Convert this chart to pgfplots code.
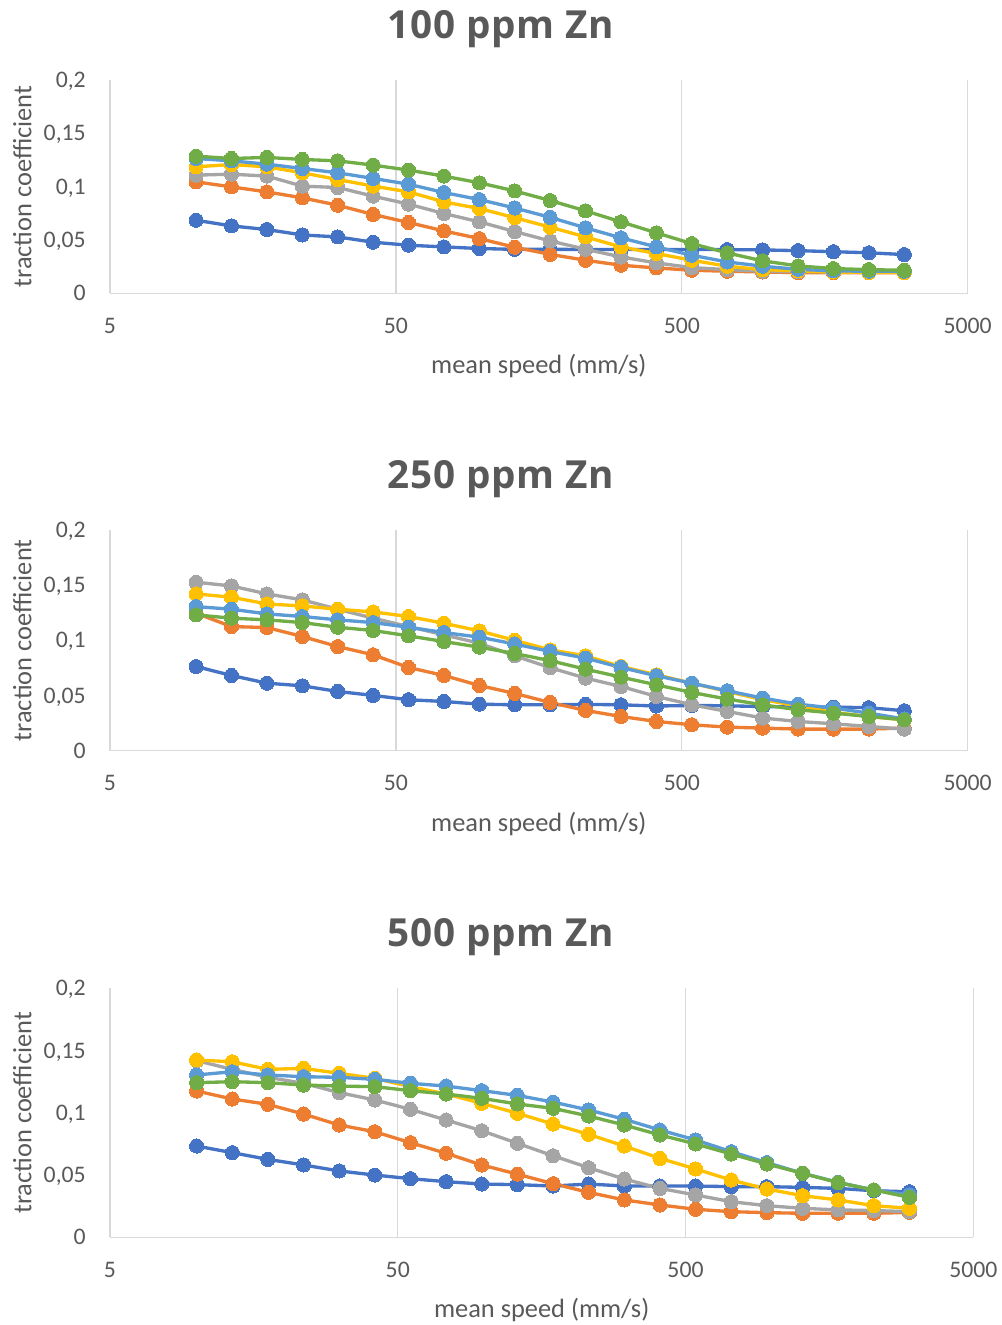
\documentclass[border=0pt]{standalone}
\usepackage{fontspec}
\setmainfont{Carlito}
\newfontfamily\titlefont[LetterSpace=2]{Open Sans}
\usepackage{pgfplots}
\usepackage{pgfplotstable}
\pgfplotsset{compat=1.18}

\definecolor{cA}{HTML}{4472C4}
\definecolor{cB}{HTML}{ED7D31}
\definecolor{cC}{HTML}{A5A5A5}
\definecolor{cD}{HTML}{FFC000}
\definecolor{cE}{HTML}{5B9BD5}
\definecolor{cF}{HTML}{70AD47}
\definecolor{txt}{HTML}{595959}
\definecolor{gridc}{HTML}{D9D9D9}

% traction coefficient vs. mean speed, 100 ppm Zn
\pgfplotstableread{
speed a b c d e f
10     0.0685 0.1045 0.1108 0.1186 0.1264 0.1286
13.30  0.0632 0.0998 0.1117 0.1208 0.1242 0.1264
17.69  0.0598 0.0951 0.1099 0.1186 0.1211 0.1274
23.53  0.0547 0.0895 0.1005 0.1130 0.1170 0.1255
31.29  0.0529 0.0826 0.0992 0.1067 0.1130 0.1242
41.62  0.0479 0.0739 0.0911 0.1005 0.1077 0.1202
55.35  0.0451 0.0664 0.0836 0.0951 0.1023 0.1155
73.62  0.0435 0.0585 0.0748 0.0857 0.0945 0.1099
97.92  0.0420 0.0513 0.0670 0.0795 0.0879 0.1036
130.2  0.0412 0.0432 0.0579 0.0709 0.0800 0.0960
173.2  0.0413 0.0365 0.0491 0.0620 0.0712 0.0870
230.3  0.0410 0.0310 0.0413 0.0529 0.0614 0.0773
306.4  0.0410 0.0263 0.0341 0.0435 0.0520 0.0670
407.4  0.0410 0.0238 0.0285 0.0373 0.0435 0.0567
541.9  0.0410 0.0216 0.0241 0.0310 0.0357 0.0466
720.8  0.0410 0.0207 0.0222 0.0254 0.0294 0.0379
958.7  0.0407 0.0200 0.0207 0.0222 0.0254 0.0304
1275.3 0.0400 0.0194 0.0204 0.0210 0.0225 0.0257
1696.0 0.0390 0.0194 0.0200 0.0200 0.0210 0.0232
2255.7 0.0380 0.0194 0.0200 0.0195 0.0207 0.0222
3000   0.0363 0.0194 0.0200 0.0195 0.0207 0.0216
}\tabA

% 250 ppm Zn
\pgfplotstableread{
speed a b c d e f
10     0.0763 0.1246 0.1527 0.1421 0.1306 0.1231
13.30  0.0682 0.1125 0.1493 0.1391 0.1282 0.1201
17.69  0.0612 0.1116 0.1421 0.1330 0.1240 0.1186
23.53  0.0588 0.1035 0.1367 0.1312 0.1216 0.1161
31.29  0.0537 0.0944 0.1282 0.1282 0.1186 0.1119
41.62  0.0501 0.0869 0.1201 0.1258 0.1161 0.1089
55.35  0.0462 0.0754 0.1125 0.1216 0.1119 0.1041
73.62  0.0446 0.0682 0.1050 0.1155 0.1071 0.0989
97.92  0.0422 0.0591 0.0974 0.1086 0.1029 0.0938
130.2  0.0416 0.0519 0.0860 0.1000 0.0967 0.0881
173.2  0.0416 0.0437 0.0752 0.0914 0.0899 0.0816
230.3  0.0420 0.0365 0.0658 0.0860 0.0839 0.0739
306.4  0.0416 0.0310 0.0582 0.0763 0.0754 0.0667
407.4  0.0405 0.0265 0.0492 0.0688 0.0679 0.0597
541.9  0.0410 0.0235 0.0416 0.0612 0.0612 0.0528
720.8  0.0407 0.0214 0.0356 0.0537 0.0543 0.0468
958.7  0.0400 0.0205 0.0296 0.0462 0.0477 0.0416
1275.3 0.0395 0.0196 0.0265 0.0407 0.0422 0.0371
1696.0 0.0395 0.0196 0.0244 0.0347 0.0386 0.0341
2255.7 0.0390 0.0196 0.0220 0.0310 0.0341 0.0310
3000   0.0362 0.0205 0.0196 0.0280 0.0287 0.0280
}\tabB

% 500 ppm Zn
\pgfplotstableread{
speed a b c d e f
10     0.0733 0.1175 0.1419 0.1424 0.1304 0.1242
13.30  0.0680 0.1111 0.1349 0.1410 0.1330 0.1250
17.69  0.0626 0.1068 0.1285 0.1349 0.1304 0.1242
23.53  0.0581 0.0990 0.1237 0.1357 0.1290 0.1223
31.29  0.0533 0.0902 0.1162 0.1317 0.1285 0.1215
41.62  0.0500 0.0848 0.1103 0.1277 0.1269 0.1210
55.35  0.0471 0.0760 0.1028 0.1210 0.1237 0.1178
73.62  0.0447 0.0675 0.0942 0.1151 0.1215 0.1151
97.92  0.0428 0.0581 0.0856 0.1076 0.1178 0.1116
130.2  0.0423 0.0507 0.0755 0.0996 0.1140 0.1071
173.2  0.0412 0.0431 0.0655 0.0910 0.1086 0.1036
230.3  0.0428 0.0361 0.0559 0.0827 0.1023 0.0974
306.4  0.0412 0.0300 0.0468 0.0733 0.0948 0.0902
407.4  0.0412 0.0260 0.0393 0.0634 0.0862 0.0822
541.9  0.0412 0.0225 0.0340 0.0549 0.0782 0.0750
720.8  0.0407 0.0206 0.0286 0.0460 0.0688 0.0669
958.7  0.0407 0.0198 0.0254 0.0388 0.0600 0.0589
1275.3 0.0401 0.0193 0.0233 0.0334 0.0514 0.0514
1696.0 0.0393 0.0193 0.0220 0.0300 0.0442 0.0439
2255.7 0.0374 0.0193 0.0215 0.0254 0.0380 0.0380
3000   0.0366 0.0200 0.0206 0.0233 0.0340 0.0321
}\tabC

\pgfplotsset{
  tcseries/.style={color=#1, line width=2.5pt, mark=*, mark size=5.3pt,
    mark options={solid, fill=#1, draw=#1, line width=0pt}},
  every axis/.append style={
    scale only axis,
    xmin=5, xmax=5000,
    ymin=0, ymax=0.2,
    axis x line*=bottom,
    axis y line*=left,
    x axis line style={-, draw=gridc, line width=0.9pt},
    y axis line style={draw=none},
    major tick length=0pt,
    minor tick length=0pt,
    xtick={5,50,500,5000},
    xticklabels={5,50,500,5000},
    ytick={0,0.05,0.1,0.15,0.2},
    yticklabels={0,{0,05},{0,1},{0,15},{0,2}},
    xmajorgrids,
    major grid style={draw=gridc, line width=0.9pt},
    xticklabel style={font=\fontsize{17.8pt}{18pt}\selectfont, text=txt,
      anchor=base, inner sep=0pt, yshift=-29.8pt},
    yticklabel style={font=\fontsize{17.8pt}{18pt}\selectfont, text=txt,
      anchor=base east, inner sep=0pt, xshift=-18pt, yshift=-5.6pt},
    xlabel={mean speed (mm/s)},
    ylabel={traction coefficient},
    xlabel style={font=\fontsize{19.8pt}{20pt}\selectfont, text=txt,
      at={(axis description cs:0.5,0)}, anchor=base, inner sep=0pt, yshift=-60.5pt},
    ylabel style={font=\fontsize{19.8pt}{20pt}\selectfont, text=txt,
      at={(axis description cs:0,0.5)}, anchor=base, inner sep=0pt, yshift=59pt},
    title style={font=\titlefont\bfseries\fontsize{29pt}{30pt}\selectfont, text=txt,
      anchor=base, inner sep=0pt, yshift=25.5pt},
    clip=false,
  },
}

\begin{document}
\begin{tikzpicture}
\useasboundingbox (0pt,0pt) rectangle (751.5pt,-993.75pt);

\begin{semilogxaxis}[at={(82.5pt,-219.975pt)}, anchor=south west,
  width=643.275pt, height=159.975pt,
  title={100 ppm Zn}, title style={at={(axis description cs:0.4559,1)}}]
\addplot[tcseries=cA] table[x=speed, y=a] {\tabA};
\addplot[tcseries=cB] table[x=speed, y=b] {\tabA};
\addplot[tcseries=cC] table[x=speed, y=c] {\tabA};
\addplot[tcseries=cD] table[x=speed, y=d] {\tabA};
\addplot[tcseries=cE] table[x=speed, y=e] {\tabA};
\addplot[tcseries=cF] table[x=speed, y=f] {\tabA};
\end{semilogxaxis}

\begin{semilogxaxis}[at={(82.5pt,-563.025pt)}, anchor=south west,
  width=643.275pt, height=165.525pt,
  title={250 ppm Zn}, title style={at={(axis description cs:0.4559,1)}}]
\addplot[tcseries=cA] table[x=speed, y=a] {\tabB};
\addplot[tcseries=cB] table[x=speed, y=b] {\tabB};
\addplot[tcseries=cC] table[x=speed, y=c] {\tabB};
\addplot[tcseries=cD] table[x=speed, y=d] {\tabB};
\addplot[tcseries=cE] table[x=speed, y=e] {\tabB};
\addplot[tcseries=cF] table[x=speed, y=f] {\tabB};
\end{semilogxaxis}

\begin{semilogxaxis}[at={(82.5pt,-927.975pt)}, anchor=south west,
  width=647.475pt, height=186.75pt,
  title={500 ppm Zn}, title style={at={(axis description cs:0.4529,1)}}]
\addplot[tcseries=cA] table[x=speed, y=a] {\tabC};
\addplot[tcseries=cB] table[x=speed, y=b] {\tabC};
\addplot[tcseries=cC] table[x=speed, y=c] {\tabC};
\addplot[tcseries=cD] table[x=speed, y=d] {\tabC};
\addplot[tcseries=cE] table[x=speed, y=e] {\tabC};
\addplot[tcseries=cF] table[x=speed, y=f] {\tabC};
\end{semilogxaxis}
\end{tikzpicture}
\end{document}
